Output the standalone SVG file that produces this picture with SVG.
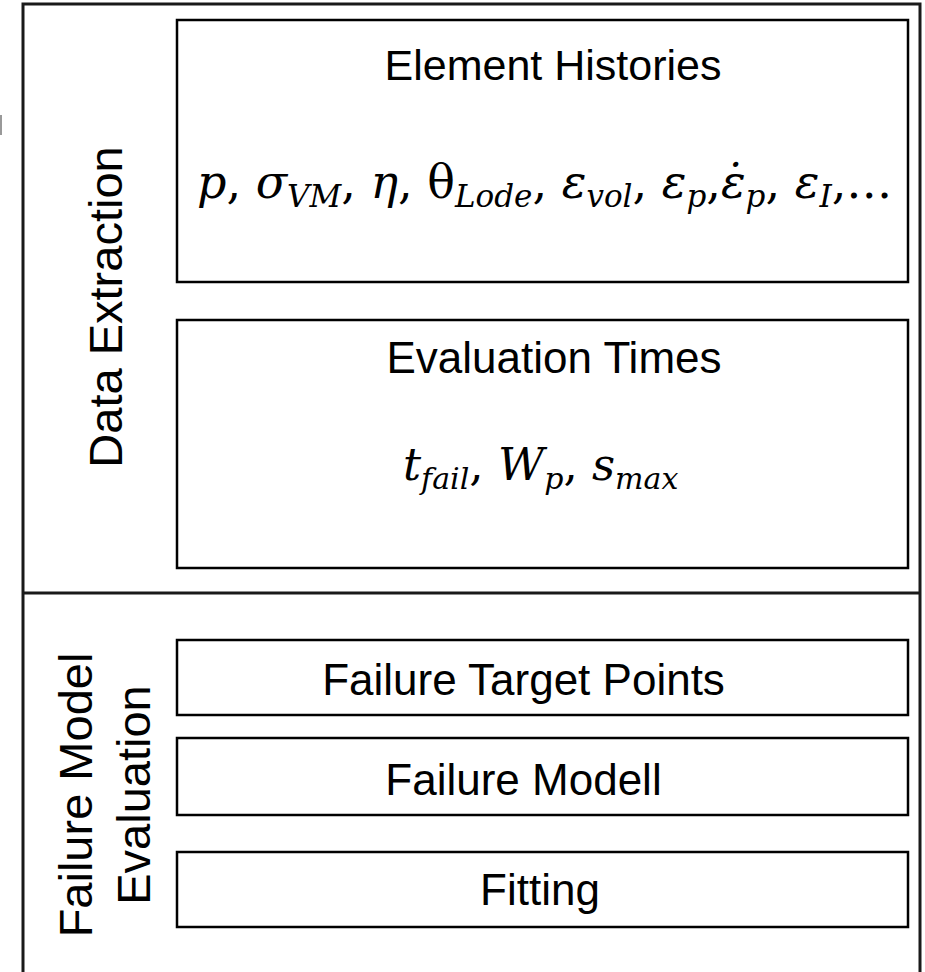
<svg xmlns="http://www.w3.org/2000/svg" width="925" height="972" viewBox="0 0 925 972">
<style>
.frame{fill:none;stroke:#1a1a1a;stroke-width:3}
.box{fill:#fff;stroke:#000;stroke-width:2.5}
.lbl{font-family:"Liberation Sans",Arial,sans-serif;font-size:44px;fill:#000;text-anchor:middle}
.vlbl{font-family:"Liberation Sans",Arial,sans-serif;font-size:47px;fill:#000;text-anchor:middle}
.math{font-family:"DejaVu Serif",serif;font-size:46px;fill:#000}
.it{font-style:italic}
.sub{font-style:italic;font-size:31px}
</style>
<rect width="925" height="972" fill="#fff"/>
<rect x="0" y="115" width="2" height="20" fill="#999"/>
<g id="frame">
<path class="frame" d="M23,980 V4 H920 V980"/>
<line class="frame" x1="23" y1="593" x2="920" y2="593"/>
</g>
<g id="section-data-extraction">
<text class="vlbl" transform="translate(122,307) rotate(-90)">Data Extraction</text>
</g>
<g id="section-failure-model">
<text class="vlbl" transform="translate(92,795) rotate(-90)">Failure Model</text>
<text class="vlbl" transform="translate(150,795) rotate(-90)">Evaluation</text>
</g>
<g id="element-histories">
<rect class="box" x="177" y="20" width="731" height="262"/>
<text class="lbl" x="553" y="80" style="font-size:43px">Element Histories</text>
<text class="math" x="197" y="198"><tspan class="it">p</tspan>, <tspan class="it">σ</tspan><tspan class="sub" dy="9">VM</tspan><tspan dy="-9">, </tspan><tspan class="it">η</tspan>, θ<tspan class="sub" dy="9">Lode</tspan><tspan dy="-9">, </tspan><tspan class="it">ε</tspan><tspan class="sub" dy="9">vol</tspan><tspan dy="-9">, </tspan><tspan class="it">ε</tspan><tspan class="sub" dy="9">p</tspan><tspan dy="-9">,</tspan><tspan class="it">ε̇</tspan><tspan class="sub" dy="9">p</tspan><tspan dy="-9">, </tspan><tspan class="it">ε</tspan><tspan class="sub" dy="9">I</tspan><tspan dy="-9">,…</tspan></text>
</g>
<g id="evaluation-times">
<rect class="box" x="177" y="320" width="731" height="248"/>
<text class="lbl" x="554" y="373">Evaluation Times</text>
<text class="math" x="403" y="480" style="font-size:45px"><tspan class="it">t</tspan><tspan class="sub" dy="9" style="font-size:30px">fail</tspan><tspan dy="-9">, </tspan><tspan class="it">W</tspan><tspan class="sub" dy="9" style="font-size:30px">p</tspan><tspan dy="-9">, </tspan><tspan class="it">s</tspan><tspan class="sub" dy="9" style="font-size:30px">max</tspan></text>
</g>
<g id="failure-target-points">
<rect class="box" x="177" y="640" width="731" height="75"/>
<text class="lbl" x="523.5" y="695">Failure Target Points</text>
</g>
<g id="failure-modell">
<rect class="box" x="177" y="738" width="731" height="77"/>
<text class="lbl" x="523.5" y="795">Failure Modell</text>
</g>
<g id="fitting">
<rect class="box" x="177" y="852" width="731" height="75"/>
<text class="lbl" x="540" y="905">Fitting</text>
</g>
<g id="connectors"/>
</svg>
